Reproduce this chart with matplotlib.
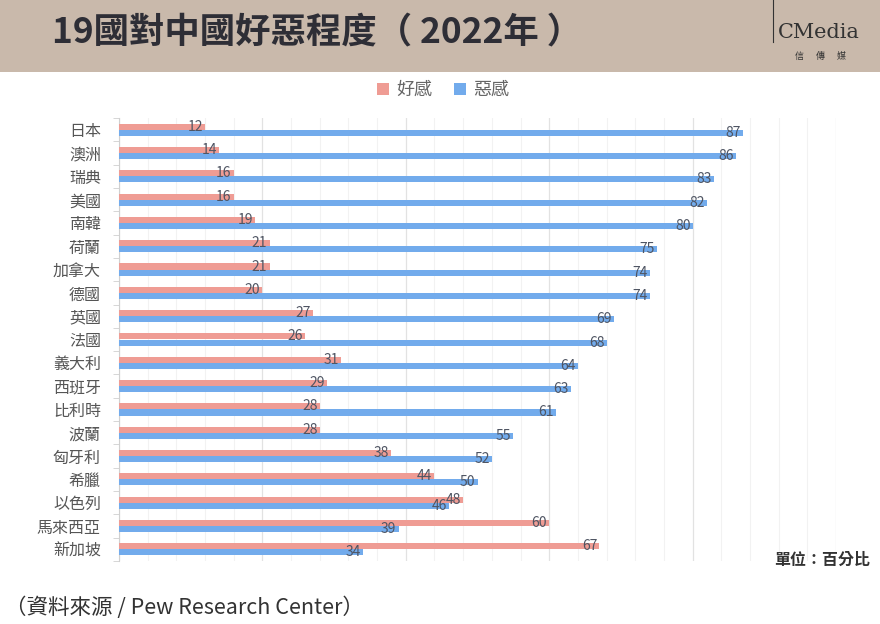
import numpy as np
import matplotlib
matplotlib.use('Agg')
import matplotlib.pyplot as plt
from matplotlib.patches import Rectangle

plt.rcParams['font.family'] = ['Noto Sans CJK TC', 'DejaVu Sans']

countries = ['日本', '澳洲', '瑞典', '美國', '南韓', '荷蘭', '加拿大', '德國', '英國', '法國',
             '義大利', '西班牙', '比利時', '波蘭', '匈牙利', '希臘', '以色列', '馬來西亞', '新加坡']
favorable = [12, 14, 16, 16, 19, 21, 21, 20, 27, 26, 31, 29, 28, 28, 38, 44, 48, 60, 67]
unfavorable = [87, 86, 83, 82, 80, 75, 74, 74, 69, 68, 64, 63, 61, 55, 52, 50, 46, 39, 34]

pink = '#ef9c94'
blue = '#72abec'
label_color = '#4f5563'

fig = plt.figure(figsize=(8.8, 6.24), dpi=100)

# header band
fig.patches.append(Rectangle((0, 1 - 72 / 624), 1, 72 / 624, transform=fig.transFigure,
                             facecolor='#c9b9ab', edgecolor='none', zorder=0))
fig.text(52 / 880, 1 - 33 / 624, '19國對中國好惡程度（ 2022年 ）', fontsize=25.5, fontweight='bold',
         color='#2e2e36', va='center', ha='left')

# logo
fig.add_artist(plt.Line2D([773 / 880, 773 / 880], [1 - 42 / 624, 1.0], transform=fig.transFigure,
                          color='#333333', lw=0.8))
fig.text(778 / 880, 1 - 33 / 624, 'CMedia', fontsize=15, color='#333333', va='center', ha='left',
         family=['DejaVu Serif'], fontweight='light')
fig.text(820 / 880, 1 - 56 / 624, '信      傳      媒', fontsize=6.5, color='#333333', va='center', ha='center')

ax = fig.add_axes([119 / 880, 1 - 561 / 624, 717 / 880, 443 / 624])

y = np.arange(len(countries))
h = 0.26
ax.barh(y - h / 2, favorable, height=h, color=pink, label='好感', zorder=3)
ax.barh(y + h / 2, unfavorable, height=h, color=blue, label='惡感', zorder=3)

for yi, f, u in zip(y, favorable, unfavorable):
    ax.text(f - 0.3, yi - h / 2, str(f), ha='right', va='center', fontsize=10, color=label_color, zorder=4)
    ax.text(u - 0.3, yi + h / 2, str(u), ha='right', va='center', fontsize=10, color=label_color, zorder=4)

ax.set_xlim(0, 100)
ax.set_ylim(len(countries) - 0.5, -0.5)
ax.set_yticks(y)
ax.set_yticklabels(countries, fontsize=11.5, color='#555555')
ax.set_yticks(np.arange(-0.5, len(countries), 1), minor=True)
ax.tick_params(axis='y', which='major', length=0, pad=13)
ax.tick_params(axis='y', which='minor', length=4, color='#d0d0d0')
ax.set_xticks(np.arange(0, 101, 20))
ax.set_xticks(np.arange(0, 101, 4), minor=True)
ax.tick_params(axis='x', which='both', length=0, labelbottom=False)
ax.grid(axis='x', which='minor', color='#f2f2f2', lw=0.8, zorder=0)
ax.grid(axis='x', which='major', color='#e2e2e2', lw=0.9, zorder=1)
for s in ['top', 'right', 'bottom']:
    ax.spines[s].set_visible(False)
ax.spines['left'].set_color('#d0d0d0')

fig.legend(loc='center', bbox_to_anchor=(443 / 880, 1 - 90 / 624), ncol=2, frameon=False,
           fontsize=13, handlelength=0.65, handleheight=0.65, handletextpad=0.4, columnspacing=1.2,
           labelcolor='#666666')

fig.text(870 / 880, 1 - 560 / 624, '單位：百分比', fontsize=11.5, fontweight='bold', color='#333333',
         ha='right', va='center')
fig.text(5 / 880, 1 - 608 / 624, '（資料來源 / Pew Research Center）', fontsize=15.5, color='#333333',
         ha='left', va='center')

fig.savefig('out.png', dpi=100)
